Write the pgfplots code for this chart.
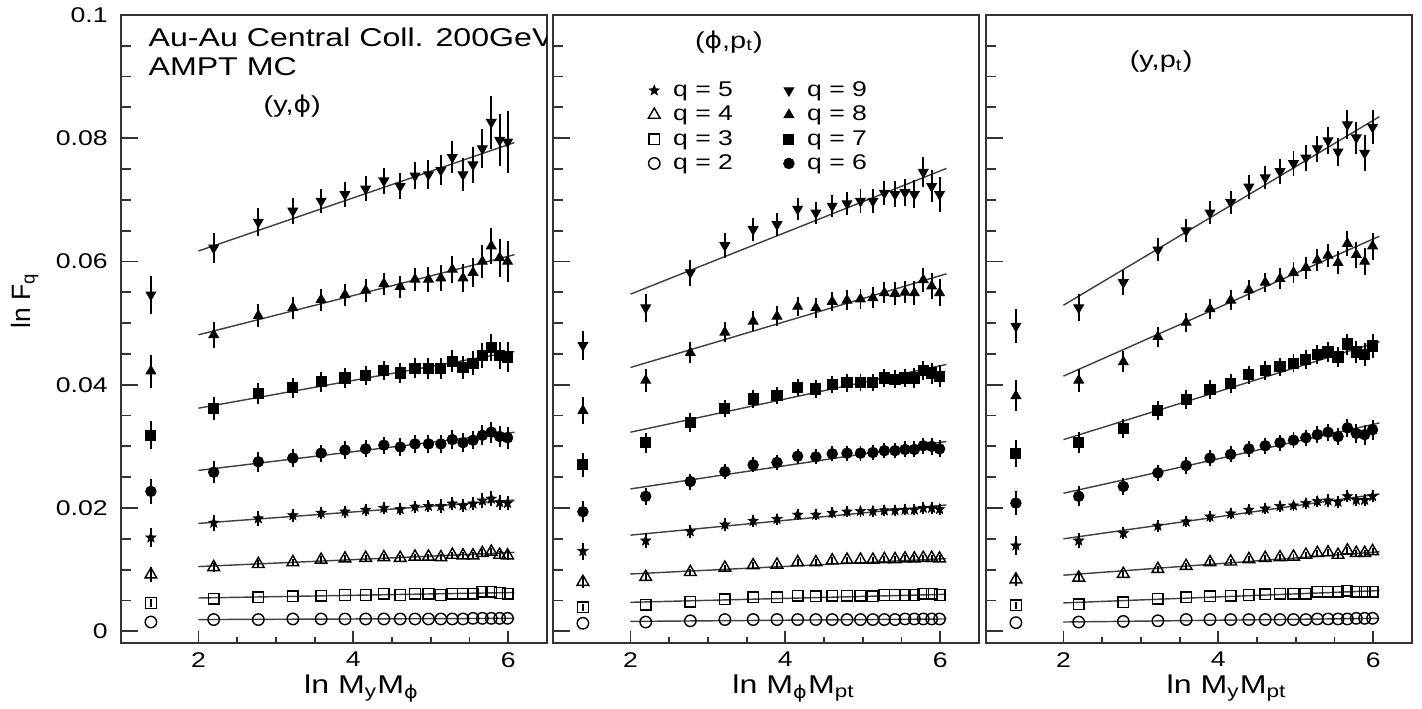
\documentclass[border=0pt]{standalone}
\usepackage{pgfplots}
\pgfplotsset{compat=1.18}
\usepackage{pgfplotstable}
\usepackage{fontspec}
\setmainfont[FakeStretch=1.25]{Liberation Sans}
\newfontfamily\plainsans{Liberation Sans}
\newfontfamily\phifont[FakeStretch=1.15]{DejaVu Sans}
\newcommand\vphi{{\phifont ϕ}}

\pgfdeclareplotmark{fstar}{%
  \pgfpathmoveto{\pgfpointpolar{90}{\pgfplotmarksize}}%
  \pgfpathlineto{\pgfpointpolar{126}{0.42*\pgfplotmarksize}}%
  \pgfpathlineto{\pgfpointpolar{162}{\pgfplotmarksize}}%
  \pgfpathlineto{\pgfpointpolar{198}{0.42*\pgfplotmarksize}}%
  \pgfpathlineto{\pgfpointpolar{234}{\pgfplotmarksize}}%
  \pgfpathlineto{\pgfpointpolar{270}{0.42*\pgfplotmarksize}}%
  \pgfpathlineto{\pgfpointpolar{306}{\pgfplotmarksize}}%
  \pgfpathlineto{\pgfpointpolar{342}{0.42*\pgfplotmarksize}}%
  \pgfpathlineto{\pgfpointpolar{18}{\pgfplotmarksize}}%
  \pgfpathlineto{\pgfpointpolar{54}{0.42*\pgfplotmarksize}}%
  \pgfpathclose
  \pgfusepathqfillstroke
}

% panel (y,phi)
\pgfplotstableread{
x y2 e2 y3 e3 y4 e4 y5 e5 y6 e6 y7 e7 y8 e8 y9 e9
1.386 0.0015 0 0.0046 0.0006 0.0092 0.0012 0.0152 0.0016 0.0227 0.0020 0.0318 0.0023 0.0422 0.0027 0.0546 0.0031
2.197 0.0019 0 0.0053 0 0.0104 0.0007 0.0176 0.0013 0.0258 0.0018 0.0361 0.0019 0.0481 0.0021 0.0622 0.0024
2.773 0.0019 0 0.0055 0 0.0109 0.0006 0.0183 0.0012 0.0275 0.0016 0.0386 0.0017 0.0512 0.0019 0.0664 0.0022
3.219 0.0020 0 0.0057 0 0.0112 0.0006 0.0188 0.0011 0.0281 0.0015 0.0395 0.0016 0.0525 0.0018 0.0682 0.0021
3.584 0.0020 0 0.0058 0 0.0116 0.0006 0.0192 0.0010 0.0289 0.0014 0.0405 0.0016 0.0538 0.0018 0.0698 0.0020
3.892 0.0020 0 0.0059 0 0.0118 0.0005 0.0194 0.0010 0.0294 0.0014 0.0411 0.0016 0.0546 0.0018 0.0709 0.0020
4.159 0.0020 0 0.0059 0 0.0119 0.0005 0.0197 0.0010 0.0296 0.0014 0.0415 0.0016 0.0553 0.0018 0.0718 0.0020
4.394 0.0020 0 0.0061 0 0.0120 0.0005 0.0200 0.0010 0.0302 0.0014 0.0423 0.0016 0.0564 0.0018 0.0731 0.0021
4.605 0.0020 0 0.0059 0 0.0119 0.0005 0.0198 0.0010 0.0299 0.0014 0.0419 0.0016 0.0559 0.0018 0.0722 0.0021
4.796 0.0020 0 0.0061 0 0.0121 0.0005 0.0202 0.0010 0.0304 0.0014 0.0427 0.0016 0.0571 0.0019 0.0739 0.0022
4.970 0.0020 0 0.0061 0 0.0121 0.0005 0.0203 0.0010 0.0304 0.0014 0.0427 0.0017 0.0571 0.0020 0.0741 0.0023
5.130 0.0020 0 0.0059 0 0.0120 0.0005 0.0203 0.0011 0.0304 0.0015 0.0427 0.0017 0.0573 0.0021 0.0748 0.0024
5.278 0.0020 0 0.0061 0 0.0124 0.0005 0.0207 0.0011 0.0311 0.0015 0.0438 0.0018 0.0587 0.0022 0.0769 0.0026
5.416 0.0020 0 0.0061 0 0.0123 0.0006 0.0204 0.0011 0.0306 0.0015 0.0428 0.0018 0.0573 0.0023 0.0741 0.0027
5.545 0.0021 0 0.0061 0 0.0123 0.0006 0.0207 0.0011 0.0310 0.0015 0.0435 0.0019 0.0582 0.0024 0.0757 0.0029
5.666 0.0021 0 0.0064 0 0.0127 0.0006 0.0212 0.0012 0.0318 0.0016 0.0447 0.0020 0.0600 0.0026 0.0783 0.0032
5.781 0.0021 0 0.0064 0 0.0129 0.0006 0.0215 0.0012 0.0323 0.0017 0.0460 0.0022 0.0625 0.0029 0.0826 0.0043
5.889 0.0021 0 0.0062 0 0.0124 0.0006 0.0209 0.0012 0.0316 0.0017 0.0448 0.0022 0.0606 0.0031 0.0797 0.0042
5.991 0.0021 0 0.0061 0 0.0123 0.0007 0.0208 0.0012 0.0314 0.0018 0.0445 0.0024 0.0600 0.0034 0.0794 0.0050
}\tabA
\pgfplotstableread{
x f2 f3 f4 f5 f6 f7 f8 f9
2.00 0.0019 0.0054 0.0105 0.0175 0.0261 0.0362 0.0481 0.0617
6.08 0.0021 0.0063 0.0128 0.0213 0.0323 0.0454 0.0611 0.0793
}\fitA

% panel (phi,pt)
\pgfplotstableread{
x y2 e2 y3 e3 y4 e4 y5 e5 y6 e6 y7 e7 y8 e8 y9 e9
1.386 0.0013 0 0.0039 0.0006 0.0080 0.0010 0.0130 0.0014 0.0194 0.0017 0.0270 0.0019 0.0358 0.0022 0.0464 0.0024
2.197 0.0015 0 0.0043 0 0.0088 0.0006 0.0147 0.0012 0.0219 0.0014 0.0306 0.0016 0.0407 0.0019 0.0525 0.0023
2.773 0.0017 0 0.0048 0 0.0096 0.0005 0.0162 0.0010 0.0243 0.0013 0.0339 0.0015 0.0452 0.0017 0.0582 0.0021
3.219 0.0019 0 0.0052 0 0.0103 0.0005 0.0173 0.0010 0.0259 0.0012 0.0362 0.0014 0.0485 0.0016 0.0626 0.0020
3.584 0.0019 0 0.0055 0 0.0107 0.0005 0.0179 0.0009 0.0270 0.0012 0.0377 0.0014 0.0503 0.0016 0.0652 0.0019
3.892 0.0019 0 0.0055 0 0.0108 0.0005 0.0182 0.0009 0.0274 0.0012 0.0382 0.0014 0.0511 0.0016 0.0660 0.0019
4.159 0.0019 0 0.0058 0 0.0112 0.0005 0.0189 0.0009 0.0284 0.0012 0.0396 0.0014 0.0527 0.0016 0.0685 0.0018
4.394 0.0019 0 0.0057 0 0.0112 0.0005 0.0189 0.0009 0.0283 0.0012 0.0393 0.0014 0.0525 0.0016 0.0679 0.0018
4.605 0.0019 0 0.0058 0 0.0115 0.0005 0.0192 0.0009 0.0288 0.0012 0.0401 0.0014 0.0535 0.0016 0.0690 0.0018
4.796 0.0019 0 0.0058 0 0.0116 0.0005 0.0194 0.0009 0.0289 0.0012 0.0403 0.0014 0.0537 0.0016 0.0694 0.0019
4.970 0.0019 0 0.0058 0 0.0116 0.0005 0.0195 0.0009 0.0289 0.0012 0.0404 0.0014 0.0539 0.0016 0.0698 0.0019
5.130 0.0019 0 0.0057 0 0.0116 0.0005 0.0195 0.0009 0.0290 0.0012 0.0404 0.0014 0.0541 0.0017 0.0698 0.0020
5.278 0.0019 0 0.0059 0 0.0117 0.0005 0.0196 0.0009 0.0293 0.0012 0.0411 0.0015 0.0549 0.0017 0.0711 0.0020
5.416 0.0019 0 0.0059 0 0.0117 0.0005 0.0196 0.0009 0.0293 0.0012 0.0409 0.0015 0.0548 0.0018 0.0709 0.0021
5.545 0.0020 0 0.0059 0 0.0118 0.0005 0.0197 0.0009 0.0295 0.0013 0.0411 0.0015 0.0550 0.0018 0.0712 0.0022
5.666 0.0020 0 0.0059 0 0.0118 0.0005 0.0197 0.0009 0.0295 0.0013 0.0411 0.0016 0.0549 0.0019 0.0709 0.0023
5.781 0.0020 0 0.0061 0 0.0119 0.0005 0.0200 0.0009 0.0301 0.0013 0.0423 0.0016 0.0570 0.0020 0.0745 0.0024
5.889 0.0020 0 0.0061 0 0.0119 0.0005 0.0200 0.0009 0.0300 0.0014 0.0419 0.0017 0.0560 0.0021 0.0722 0.0026
5.991 0.0020 0 0.0059 0 0.0118 0.0005 0.0198 0.0009 0.0296 0.0014 0.0414 0.0018 0.0549 0.0022 0.0709 0.0028
}\tabB
\pgfplotstableread{
x f2 f3 f4 f5 f6 f7 f8 f9
2.00 0.0016 0.0047 0.0093 0.0156 0.0231 0.0323 0.0428 0.0547
6.08 0.0020 0.0060 0.0118 0.0205 0.0308 0.0433 0.0580 0.0751
}\fitB

% panel (y,pt)
\pgfplotstableread{
x y2 e2 y3 e3 y4 e4 y5 e5 y6 e6 y7 e7 y8 e8 y9 e9
1.386 0.0014 0 0.0042 0.0006 0.0084 0.0011 0.0139 0.0015 0.0208 0.0019 0.0288 0.0022 0.0382 0.0025 0.0495 0.0028
2.197 0.0015 0 0.0044 0 0.0087 0.0007 0.0147 0.0012 0.0219 0.0016 0.0306 0.0017 0.0407 0.0019 0.0525 0.0022
2.773 0.0016 0 0.0047 0 0.0093 0.0005 0.0159 0.0010 0.0235 0.0014 0.0329 0.0016 0.0437 0.0017 0.0566 0.0020
3.219 0.0017 0 0.0053 0 0.0101 0.0005 0.0171 0.0010 0.0257 0.0013 0.0358 0.0015 0.0478 0.0016 0.0619 0.0019
3.584 0.0019 0 0.0055 0 0.0106 0.0005 0.0178 0.0009 0.0269 0.0013 0.0376 0.0015 0.0501 0.0016 0.0650 0.0019
3.892 0.0019 0 0.0057 0 0.0112 0.0005 0.0186 0.0009 0.0281 0.0013 0.0392 0.0015 0.0523 0.0016 0.0679 0.0019
4.159 0.0019 0 0.0058 0 0.0113 0.0005 0.0191 0.0009 0.0287 0.0013 0.0402 0.0015 0.0537 0.0016 0.0696 0.0019
4.394 0.0019 0 0.0059 0 0.0117 0.0005 0.0197 0.0009 0.0296 0.0013 0.0416 0.0015 0.0554 0.0016 0.0721 0.0019
4.605 0.0019 0 0.0060 0 0.0119 0.0005 0.0199 0.0009 0.0301 0.0013 0.0423 0.0015 0.0566 0.0016 0.0736 0.0019
4.796 0.0019 0 0.0061 0 0.0120 0.0005 0.0203 0.0009 0.0306 0.0013 0.0429 0.0015 0.0572 0.0017 0.0746 0.0020
4.970 0.0019 0 0.0061 0 0.0121 0.0005 0.0204 0.0009 0.0310 0.0013 0.0435 0.0015 0.0582 0.0017 0.0759 0.0020
5.130 0.0019 0 0.0061 0 0.0124 0.0005 0.0208 0.0009 0.0314 0.0013 0.0441 0.0016 0.0590 0.0018 0.0768 0.0021
5.278 0.0020 0 0.0064 0 0.0127 0.0005 0.0211 0.0009 0.0319 0.0014 0.0449 0.0016 0.0602 0.0018 0.0783 0.0021
5.416 0.0020 0 0.0064 0 0.0128 0.0005 0.0212 0.0010 0.0323 0.0014 0.0453 0.0016 0.0610 0.0019 0.0796 0.0022
5.545 0.0020 0 0.0064 0 0.0124 0.0005 0.0210 0.0010 0.0316 0.0014 0.0445 0.0017 0.0598 0.0019 0.0778 0.0023
5.666 0.0020 0 0.0066 0 0.0131 0.0005 0.0219 0.0010 0.0330 0.0015 0.0466 0.0017 0.0629 0.0020 0.0822 0.0024
5.781 0.0021 0 0.0064 0 0.0127 0.0005 0.0213 0.0010 0.0321 0.0015 0.0453 0.0018 0.0611 0.0021 0.0801 0.0026
5.889 0.0021 0 0.0064 0 0.0127 0.0005 0.0213 0.0010 0.0319 0.0016 0.0449 0.0018 0.0600 0.0022 0.0776 0.0030
5.991 0.0021 0 0.0064 0 0.0130 0.0005 0.0219 0.0010 0.0327 0.0016 0.0463 0.0019 0.0625 0.0022 0.0818 0.0028
}\tabC
\pgfplotstableread{
x f2 f3 f4 f5 f6 f7 f8 f9
2.00 0.0015 0.0046 0.0091 0.0150 0.0224 0.0311 0.0414 0.0529
6.08 0.0021 0.0066 0.0129 0.0223 0.0338 0.0470 0.0641 0.0835
}\fitC

\pgfplotsset{
  panel/.style={
    scale only axis, width=164pt, height=241.8pt,
    anchor=south west,
    xmin=1, xmax=6.5, ymin=-0.0019, ymax=0.1,
    xtick={2,4,6}, minor x tick num=3,
    ytick={0,0.02,0.04,0.06,0.08,0.1}, minor y tick num=3,
    tick align=inside, xtick pos=bottom, ytick pos=left,
    major tick length=6.5pt, minor tick length=3.8pt,
    xtick style={/pgfplots/major tick length=4.6pt, /pgfplots/minor tick length=2.3pt},
    axis line style={line width=0.8pt, black!80},
    tick style={line width=0.7pt, black!80},
    scaled y ticks=false,
    /pgf/number format/assume math mode=true,
    ticklabel style={font=\fontsize{8.2}{10}\selectfont, black},
    yticklabel style={xshift=-1.6pt},
    xlabel style={font=\fontsize{9.9}{12}\selectfont, at={(axis description cs:0.565,-0.036)}, anchor=north},
  },
  fitline/.style={black!75, line width=0.55pt, no markers, forget plot},
  q2/.style={mark=o, mark size=2.2pt, mark options={draw=black, fill=none, line width=0.55pt}},
  q3/.style={mark=square, mark size=2.05pt, mark options={draw=black, fill=none, line width=0.55pt}},
  q4/.style={mark=triangle, mark size=2.6pt, mark options={draw=black, fill=none, line width=0.55pt}},
  q5/.style={mark=fstar, mark size=2.1pt, mark options={draw=black, fill=black, line width=0.2pt}},
  q6/.style={mark=*, mark size=2.0pt, mark options={draw=black, fill=black}},
  q7/.style={mark=square*, mark size=1.95pt, mark options={draw=black, fill=black}},
  q8/.style={mark=triangle*, mark size=2.1pt, mark options={draw=black, fill=black}},
  q9/.style={mark=triangle*, mark size=2.1pt, mark options={draw=black, fill=black, rotate=180}},
  errs/.style={only marks, forget plot, error bars/.cd, y dir=both, y explicit, error mark=none, error bar style={line width=0.75pt, black}},
}

\begin{document}
\begin{tikzpicture}
\path[use as bounding box] (0,0) rectangle (547.47pt,272.58pt);

% ---------- panel 1 ----------
\begin{axis}[panel, at={(46.585pt,25.025pt)},
  yticklabels={0,0.02,0.04,0.06,0.08,0.1},
  xlabel={ln M\textsubscript{y}M\textsubscript{\vphi}},
  ylabel={\plainsans ln F\textsubscript{q}},
  ylabel style={font=\fontsize{10.2}{12}\selectfont, at={(axis description cs:-0.2254,0.545)}, anchor=center},
]
\pgfplotsinvokeforeach{2,...,9}{
  \addplot[fitline] table[x=x, y=f#1] {\fitA};
}
\pgfplotsinvokeforeach{2,...,9}{
  \addplot[q#1, errs] table[x=x, y=y#1, y error=e#1] {\tabA};
}
\node[anchor=base west, inner sep=0pt, font=\fontsize{9.9}{12}\selectfont] at (rel axis cs:0.0635,0.9495) {Au-Au Central Coll. 200GeV};
\node[anchor=base west, inner sep=0pt, font=\fontsize{9.9}{12}\selectfont] at (rel axis cs:0.0635,0.903) {AMPT MC};
\node[anchor=base, inner sep=0pt, font=\fontsize{8.9}{11}\selectfont] at (rel axis cs:0.402,0.844) {(y,\vphi)};
\end{axis}

% ---------- panel 2 ----------
\begin{axis}[panel, at={(212.905pt,25.025pt)},
  yticklabels={},
  xlabel={ln M\textsubscript{\vphi}M\textsubscript{pt}},
  legend columns=2, legend cell align=left,
  legend style={at={(rel axis cs:0.224,0.899)}, anchor=north west, draw=none, fill=none,
    inner sep=0pt, outer sep=0pt, font=\fontsize{8.2}{10}\selectfont,
    nodes={inner xsep=1.5pt, inner ysep=0pt, text height=7pt, text depth=2.36pt},
    row sep=0pt},
]
\pgfplotsinvokeforeach{2,...,9}{
  \addplot[fitline] table[x=x, y=f#1] {\fitB};
}
\pgfplotsinvokeforeach{2,...,9}{
  \addplot[q#1, errs] table[x=x, y=y#1, y error=e#1] {\tabB};
}
\addlegendimage{q5, only marks}\addlegendentry{\hspace*{3.5pt}q = 5\hspace*{18pt}}
\addlegendimage{q9, only marks}\addlegendentry{\hspace*{3.5pt}q = 9}
\addlegendimage{q4, only marks}\addlegendentry{\hspace*{3.5pt}q = 4\hspace*{18pt}}
\addlegendimage{q8, only marks}\addlegendentry{\hspace*{3.5pt}q = 8}
\addlegendimage{q3, only marks}\addlegendentry{\hspace*{3.5pt}q = 3\hspace*{18pt}}
\addlegendimage{q7, only marks}\addlegendentry{\hspace*{3.5pt}q = 7}
\addlegendimage{q2, only marks}\addlegendentry{\hspace*{3.5pt}q = 2\hspace*{18pt}}
\addlegendimage{q6, only marks}\addlegendentry{\hspace*{3.5pt}q = 6}
\node[anchor=base, inner sep=0pt, font=\fontsize{8.9}{11}\selectfont] at (rel axis cs:0.413,0.947) {(\vphi,p\textsubscript{t})};
\end{axis}

% ---------- panel 3 ----------
\begin{axis}[panel, at={(379.61pt,25.025pt)},
  yticklabels={},
  xlabel={ln M\textsubscript{y}M\textsubscript{pt}},
]
\pgfplotsinvokeforeach{2,...,9}{
  \addplot[fitline] table[x=x, y=f#1] {\fitC};
}
\pgfplotsinvokeforeach{2,...,9}{
  \addplot[q#1, errs] table[x=x, y=y#1, y error=e#1] {\tabC};
}
\node[anchor=base, inner sep=0pt, font=\fontsize{8.9}{11}\selectfont] at (rel axis cs:0.411,0.916) {(y,p\textsubscript{t})};
\end{axis}
\end{tikzpicture}
\end{document}
